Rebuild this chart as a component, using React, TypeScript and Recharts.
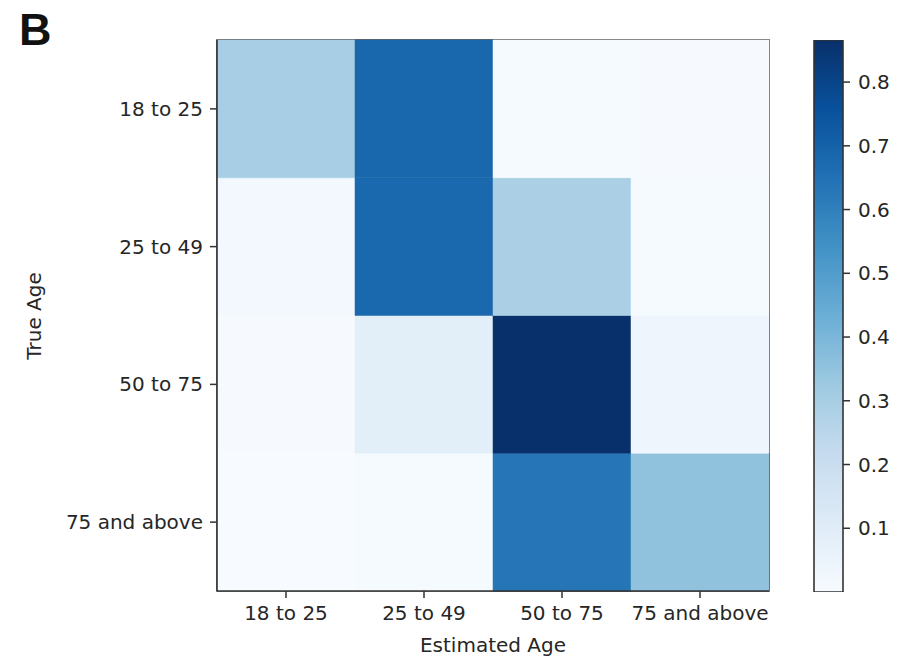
import { Bar, BarChart, Cell, ReferenceArea, XAxis, YAxis } from 'recharts'

// Confusion matrix, rows = true age, columns = estimated age (row-normalised)
const TRUE_AGE = ['18 to 25', '25 to 49', '50 to 75', '75 and above']
const ESTIMATED_AGE = ['18 to 25', '25 to 49', '50 to 75', '75 and above']
const ROW_18_25 = [0.3, 0.685, 0.01, 0.005]
const ROW_25_49 = [0.02, 0.68, 0.29, 0.01]
const ROW_50_75 = [0.005, 0.09, 0.866, 0.04]
const ROW_75_UP = [0.0, 0.01, 0.635, 0.355]
const MATRIX = [ROW_18_25, ROW_25_49, ROW_50_75, ROW_75_UP]
const COLORBAR_TICKS = [0.1, 0.2, 0.3, 0.4, 0.5, 0.6, 0.7, 0.8]

const VMIN = Math.min(...MATRIX.flat())
const VMAX = Math.max(...MATRIX.flat())

// matplotlib "Blues" anchors
const BLUES = ['#f7fbff', '#deebf7', '#c6dbef', '#9ecae1', '#6baed6', '#4292c6', '#2171b5', '#08519c', '#08306b']

const hex = (h: string) => [1, 3, 5].map((i) => parseInt(h.slice(i, i + 2), 16))

function blues(v: number) {
  const t = Math.max(0, Math.min(1, (v - VMIN) / (VMAX - VMIN))) * (BLUES.length - 1)
  const i = Math.min(Math.floor(t), BLUES.length - 2)
  const f = t - i
  const a = hex(BLUES[i])
  const b = hex(BLUES[i + 1])
  const c = a.map((x, k) => Math.round(x + (b[k] - x) * f))
  return `rgb(${c[0]},${c[1]},${c[2]})`
}

// one column per estimated class, each true class stacked as a unit cell
const rows = TRUE_AGE.map((_, r) => `r${r}`)
const data = ESTIMATED_AGE.map((est) => {
  const d: Record<string, string | number> = { est }
  rows.forEach((k) => (d[k] = 1))
  return d
})
const barData = [{ name: 'cb', value: VMAX }]

const FONT = '"DejaVu Sans", sans-serif'
const INK = '#262626'
const FRAME = '#333'
const tick = { fill: INK, fontSize: 20, fontFamily: FONT }

function Heatmap() {
  return (
    <BarChart
      width={790}
      height={661}
      data={data}
      margin={{ top: 40, right: 21, bottom: 10, left: 97 }}
      barCategoryGap={0}
      barGap={0}
    >
      <XAxis
        dataKey="est"
        height={60}
        tick={tick}
        tickSize={7}
        tickMargin={8}
        tickLine={{ stroke: FRAME, strokeWidth: 1.5 }}
        axisLine={{ stroke: FRAME, strokeWidth: 1.6 }}
      />
      <YAxis
        type="number"
        domain={[0, TRUE_AGE.length]}
        ticks={[0.5, 1.5, 2.5, 3.5]}
        tickFormatter={(v: number) => TRUE_AGE[TRUE_AGE.length - 1 - Math.floor(v)]}
        width={120}
        tick={tick}
        tickSize={7}
        tickMargin={7}
        tickLine={{ stroke: FRAME, strokeWidth: 1.5 }}
        axisLine={{ stroke: FRAME, strokeWidth: 1.6 }}
      />
      {/* stacked bottom-up, so the last true class goes first */}
      {[...rows].reverse().map((key) => {
        const r = Number(key.slice(1))
        return (
          <Bar key={key} dataKey={key} stackId="m" isAnimationActive={false}>
            {ESTIMATED_AGE.map((_, c) => (
              <Cell key={c} fill={blues(MATRIX[r][c])} stroke={blues(MATRIX[r][c])} strokeWidth={0.5} />
            ))}
          </Bar>
        )
      })}
      {/* axes frame */}
      <ReferenceArea y1={0} y2={TRUE_AGE.length} fill="none" stroke={FRAME} strokeWidth={1.6} ifOverflow="visible" />
    </BarChart>
  )
}

function Colorbar() {
  return (
    <BarChart
      width={112}
      height={661}
      data={barData}
      margin={{ top: 40, right: 0, bottom: 69, left: 24 }}
      barCategoryGap={0}
    >
      <defs>
        <linearGradient id="blues" x1="0" y1="1" x2="0" y2="0">
          {BLUES.map((c, i) => (
            <stop key={c} offset={i / (BLUES.length - 1)} stopColor={c} />
          ))}
        </linearGradient>
      </defs>
      <XAxis dataKey="name" hide />
      <YAxis
        orientation="right"
        type="number"
        domain={[VMIN, VMAX]}
        allowDataOverflow
        ticks={COLORBAR_TICKS}
        tickFormatter={(v: number) => v.toFixed(1)}
        width={59}
        tick={{ ...tick, textAnchor: 'start' }}
        tickSize={7}
        tickMargin={8}
        tickLine={{ stroke: FRAME, strokeWidth: 1.5 }}
        axisLine={false}
      />
      <Bar dataKey="value" fill="url(#blues)" stroke={FRAME} strokeWidth={1.6} isAnimationActive={false} />
    </BarChart>
  )
}

export default function App() {
  return (
    <div style={{ position: 'absolute', left: 0, top: 0, width: 902, height: 661, background: '#fff' }}>
      <div style={{ position: 'absolute', left: 0, top: 0 }}>
        <Heatmap />
      </div>
      <div style={{ position: 'absolute', left: 790, top: 0 }}>
        <Colorbar />
      </div>
      <svg width={902} height={661} style={{ position: 'absolute', left: 0, top: 0, pointerEvents: 'none' }}>
        <text x={19} y={45} fontFamily='"Liberation Sans", Arial, sans-serif' fontWeight={700} fontSize={45} fill="#111">
          B
        </text>
        <text x={493} y={652} textAnchor="middle" fontFamily={FONT} fontSize={20} fill={INK}>
          Estimated Age
        </text>
        <text x={41} y={316} transform="rotate(-90 41 316)" textAnchor="middle" fontFamily={FONT} fontSize={20} fill={INK}>
          True Age
        </text>
      </svg>
    </div>
  )
}
